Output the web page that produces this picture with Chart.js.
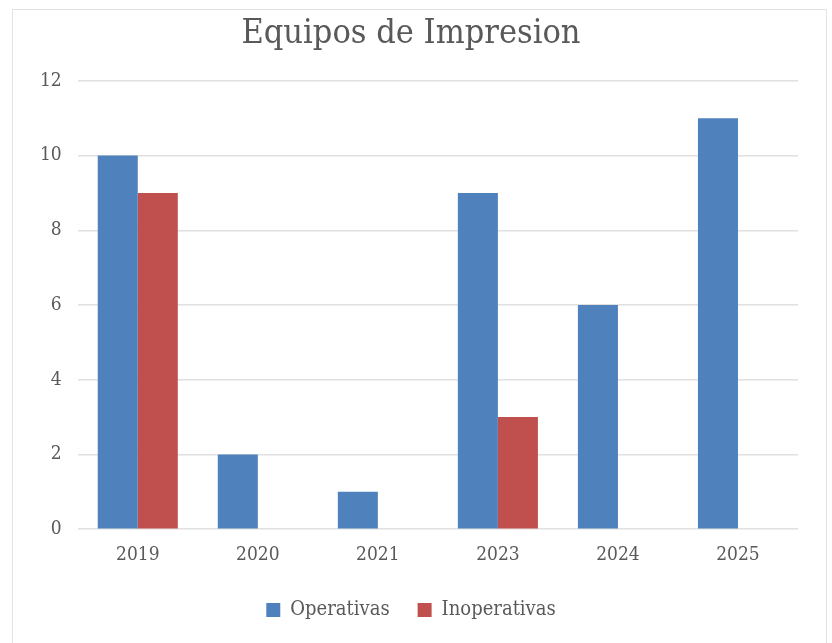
<!DOCTYPE html>
<html>
<head>
<meta charset="utf-8">
<script src="https://cdn.jsdelivr.net/npm/chart.js@4.4.0/dist/chart.umd.min.js"></script>
<style>
    html, body { margin: 0; padding: 0; background: #fff; }
    #frame {
        position: absolute; left: 12px; top: 9px;
        width: 813px; height: 645px;
        border: 1px solid #e3e3e3;
    }
    #wrap { position: absolute; left: 0; top: 0; width: 832px; height: 643px; }
</style>
</head>
<body>
<div id="frame"></div>
<div id="wrap"><canvas id="printChart"></canvas></div>
<script>
    const years = ["2019", "2020", "2021", "2023", "2024", "2025"];
    const operativas = [10, 2, 1, 9, 6, 11];
    const inoperativas = [9, 0, 0, 3, 0, 0];
    const yTicks = [0, 2, 4, 6, 8, 10, 12];

    const serif = "'DejaVu Serif Condensed', 'DejaVu Serif', serif";
    const labelFont = { family: serif, size: 19 };

    const ctx = document.getElementById("printChart").getContext("2d");
    const printChart = new Chart(ctx, {
        type: "bar",
        data: {
            labels: years,
            datasets: [
                {
                    label: "Operativas",
                    data: operativas,
                    backgroundColor: "#4f81bd",
                    borderWidth: 0,
                },
                {
                    label: "Inoperativas",
                    data: inoperativas,
                    backgroundColor: "#c0504d",
                    borderWidth: 0,
                },
            ],
        },
        options: {
            responsive: true,
            maintainAspectRatio: false,
            animation: false,
            categoryPercentage: 0.667,
            barPercentage: 1,
            layout: {
                padding: { left: 24, right: 34, top: 8, bottom: 13 },
            },
            scales: {
                x: {
                    grid: { display: false },
                    border: { display: false },
                    ticks: { color: "#595959", font: labelFont, padding: 6 },
                },
                y: {
                    min: 0,
                    max: 12,
                    afterBuildTicks: function (axis) {
                        axis.ticks = yTicks.map(function (v) { return { value: v }; });
                    },
                    grid: { color: "#e0e0e0", lineWidth: 1.5, drawTicks: false },
                    border: { display: false },
                    ticks: { color: "#595959", font: labelFont, padding: 16 },
                },
            },
            plugins: {
                title: {
                    display: true,
                    text: "Equipos de Impresion",
                    color: "#595959",
                    font: { family: serif, size: 34, weight: "normal" },
                    padding: { top: 6, bottom: 26 },
                },
                legend: {
                    display: true,
                    position: "bottom",
                    labels: {
                        color: "#595959",
                        font: { family: serif, size: 20 },
                        boxWidth: 14,
                        boxHeight: 14,
                        padding: 28,
                    },
                },
                tooltip: { enabled: false },
            },
        },
    });
</script>
</body>
</html>
